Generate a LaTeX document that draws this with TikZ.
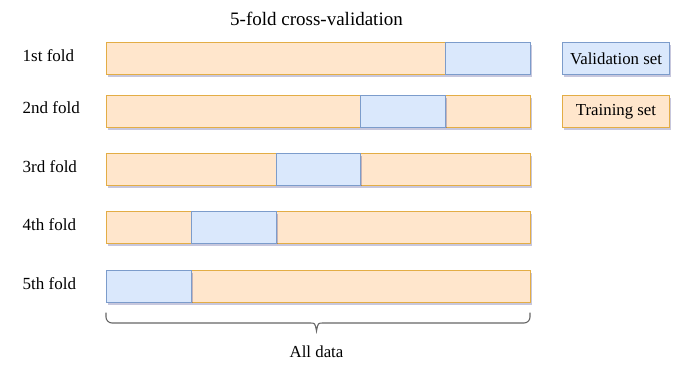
\documentclass[tikz,border=0pt]{standalone}
\usepackage{fontspec}
\setmainfont{Liberation Serif}
\usetikzlibrary{shadows}
\definecolor{trfill}{HTML}{FFE6CC}
\definecolor{trdraw}{HTML}{E3AD45}
\definecolor{vafill}{HTML}{DAE8FC}
\definecolor{vadraw}{HTML}{7C9CCB}
\definecolor{brace}{HTML}{666666}
\tikzset{
  seg/.style={rectangle, inner sep=0pt, anchor=north west, minimum height=32pt, line width=1pt,
    drop shadow={shadow xshift=1.5pt, shadow yshift=-2.5pt, opacity=0.22, fill=black!60!blue}},
  trainseg/.style={seg, fill=trfill, draw=trdraw},
  valseg/.style={seg, fill=vafill, draw=vadraw},
  lbl/.style={font=\fontsize{17}{20}\selectfont, anchor=west, inner sep=0pt},
  ttl/.style={font=\fontsize{19}{22}\selectfont, inner sep=0pt},
  legtxt/.style={font=\fontsize{16.8}{20}\selectfont},
}
\begin{document}
\begin{tikzpicture}[x=1pt,y=-1pt]
\useasboundingbox (0,0) rectangle (679,371);
\node[ttl] (title) at (316.5,19) {5-fold cross-validation};
% row labels
\node[lbl] (l1) at (22.5,56) {1st fold};
\node[lbl] (l2) at (22.5,108) {2nd fold};
\node[lbl] (l3) at (22.5,167) {3rd fold};
\node[lbl] (l4) at (22.5,225) {4th fold};
\node[lbl] (l5) at (22.5,284) {5th fold};
% row 1
\node[trainseg, minimum width=339pt] (r1a) at (106,42) {};
\node[valseg, minimum width=85pt] (r1v) at (445,42) {};
% row 2
\node[trainseg, minimum width=254pt] (r2a) at (106,95) {};
\node[trainseg, minimum width=85pt] (r2b) at (445,95) {};
\node[valseg, minimum width=85pt] (r2v) at (360,95) {};
% row 3
\node[trainseg, minimum width=170pt] (r3a) at (106,153) {};
\node[trainseg, minimum width=170pt] (r3b) at (360,153) {};
\node[valseg, minimum width=84pt] (r3v) at (276,153) {};
% row 4
\node[trainseg, minimum width=85pt] (r4a) at (106,211) {};
\node[trainseg, minimum width=254pt] (r4b) at (276,211) {};
\node[valseg, minimum width=85pt] (r4v) at (191,211) {};
% row 5
\node[trainseg, minimum width=339pt] (r5a) at (191,270) {};
\node[valseg, minimum width=85pt] (r5v) at (106,270) {};
% legend
\node[valseg, minimum width=107pt] (legv) at (562,42) {};
\node[legtxt] at (legv.center) {Validation set};
\node[trainseg, minimum width=107pt] (legt) at (562,95) {};
\node[legtxt] at (legt.center) {Training set};
% brace
\coordinate (bl) at (106,313);
\coordinate (br) at (530,313);
\coordinate (bm) at (316.5,331);
\draw[brace, line width=1.1pt, line cap=round]
  (bl) -- (106,317) arc[start angle=180, end angle=90, radius=6] -- (310,323)
  .. controls (315,323) .. (bm) .. controls (318,323) .. (323,323)
  -- (524,323) arc[start angle=90, end angle=0, radius=6] -- (br);
\node[legtxt, inner sep=0pt] (all) at (316.5,352) {All data};
\end{tikzpicture}
\end{document}
